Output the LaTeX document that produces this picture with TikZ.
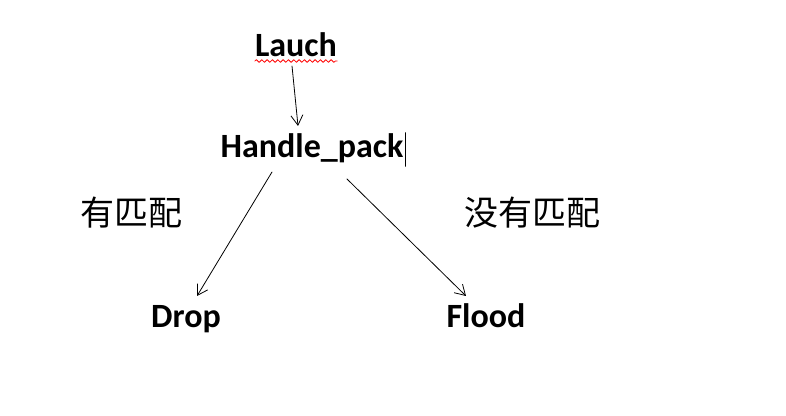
\documentclass[tikz,border=0pt]{standalone}
\usepackage{fontspec}
\setmainfont{Carlito}
\newfontfamily\cjk{Noto Sans CJK SC}
\usetikzlibrary{arrows.meta,decorations.pathmorphing}
\begin{document}
\begin{tikzpicture}[x=0.75pt, y=-0.75pt, line join=round, line cap=round,
	>={Straight Barb[length=7.5pt,width=9pt]},
	state/.style={inner sep=0pt, anchor=base, font=\fontsize{25.5}{30}\selectfont\bfseries},
	cond/.style={inner sep=0pt, font=\fontsize{25.5}{30}\selectfont\cjk}]
	\useasboundingbox (0,0) rectangle (786,416);
	\foreach \p/\n/\t in {(296,57)/lauch/Lauch, (312,158)/handle/Handle\_pack, (186,328)/drop/Drop, (486,328)/flood/Flood}
		\node[state] (\n) at \p {\t};
	\node[cond] (match) at (131,213) {有匹配};
	\node[cond] (nomatch) at (532,213) {没有匹配};
	% red spell-check squiggle and text cursor
	\draw[red, line width=0.6pt, decorate, decoration={snake, segment length=4, amplitude=1}] ([shift={(0,4)}]lauch.base west) -- ([shift={(0,4)}]lauch.base east);
	\draw[line width=1.2pt] ([shift={(2,8)}]handle.base east) -- ([shift={(2,-25)}]handle.base east);
	\draw[->, line width=0.6pt] ([shift={(-4,9)}]lauch.base) -- ([shift={(-14,-32)}]handle.base);
	\draw[->, line width=0.6pt] ([shift={(-40,14)}]handle.base) -- ([shift={(11,-32)}]drop.base);
	\draw[->, line width=0.6pt] ([shift={(35,21)}]handle.base) -- ([shift={(-20,-32)}]flood.base);
\end{tikzpicture}
\end{document}
